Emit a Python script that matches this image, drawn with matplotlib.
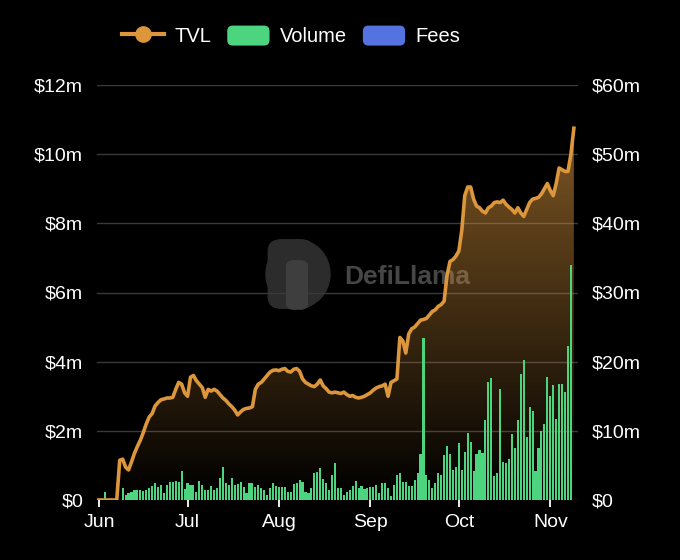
import numpy as np
import pandas as pd
import matplotlib
matplotlib.use("Agg")
import matplotlib.pyplot as plt
import matplotlib.dates as mdates
from matplotlib.lines import Line2D
from matplotlib.patches import Patch, FancyBboxPatch, Ellipse
from matplotlib.legend_handler import HandlerPatch

plt.rcParams['font.family'] = ['Liberation Sans', 'DejaVu Sans']

# daily values from May 31 to Nov 10, in $m
tvl = [0, 0, 0, 0, 0, 0, 0, 0,
       1.15, 1.18, 0.95, 0.87, 1.1, 1.35, 1.55, 1.73, 1.95, 2.2, 2.4, 2.5,
       2.72, 2.82, 2.9, 2.92, 2.95, 2.95, 2.97, 3.2, 3.4, 3.35, 3.1, 3.0,
       3.55, 3.6, 3.45, 3.35, 3.25, 2.97, 3.2, 3.15, 3.2, 3.15, 3.05, 2.95,
       2.88, 2.78, 2.7, 2.6, 2.46, 2.55, 2.62, 2.65, 2.66, 2.7, 3.2, 3.35,
       3.4, 3.5, 3.6, 3.7, 3.75, 3.76,
       3.74, 3.78, 3.8, 3.72, 3.7, 3.78, 3.8, 3.72, 3.5, 3.4, 3.35, 3.3,
       3.28, 3.35, 3.47, 3.3, 3.22, 3.12, 3.1, 3.12, 3.1, 3.08, 3.12, 3.05,
       3.0, 3.02, 2.97, 2.95, 2.97, 3.0,
       3.05, 3.1, 3.18, 3.24, 3.28, 3.3, 3.35, 3.0, 3.4, 3.45, 3.5, 4.7,
       4.6, 4.25, 4.8, 4.95, 5.0, 5.1, 5.2, 5.22, 5.25, 5.35, 5.45, 5.5,
       5.6, 5.65, 5.75, 6.5, 6.9, 6.95,
       7.05, 7.2, 7.8, 8.8, 9.05, 9.05, 8.7, 8.5, 8.45, 8.35, 8.3, 8.45,
       8.5, 8.6, 8.62, 8.6, 8.67, 8.55, 8.47, 8.4, 8.3, 8.45, 8.3, 8.2,
       8.4, 8.6, 8.7, 8.72, 8.75, 8.85,
       9.0, 9.15, 8.95, 8.8, 9.15, 9.6, 9.55, 9.5, 9.5, 10.0, 10.75]

volume = [0, 0, 0, 1.2, 0, 0, 0, 0, 0,
          1.69, 0.72, 1.06, 1.2, 1.45, 1.45, 1.45, 1.3, 1.45, 1.69, 2.02, 2.41,
          1.93, 2.17, 1.06, 2.17, 2.65, 2.65, 2.79, 2.55, 4.24, 1.54, 2.5, 2.17,
          2.12, 1.2, 2.75, 2.17, 1.45, 1.45, 2.02, 1.45, 1.69, 3.23, 4.72, 2.41,
          2.17, 3.13, 2.17, 2.31, 2.65, 1.93, 0.96, 2.41, 2.41, 1.93, 2.17, 1.69,
          1.45, 0.72, 1.69, 2.41, 2.02, 1.83, 1.93, 1.93, 1.2, 1.2, 2.31, 2.41,
          2.89, 2.65, 1.2, 0.96, 1.69, 3.85, 4.09, 4.58, 2.99, 2.41, 1.45, 3.61,
          5.39, 1.69, 1.69, 0.72, 1.2, 1.45, 2.02, 2.79, 1.69, 2.02, 1.54, 1.69,
          1.83, 1.93, 2.17, 0.96, 2.41,
          2.4, 1.7, 0.6, 2.2, 3.6, 3.85, 2.6, 2.6, 2.0, 2.0, 2.9, 3.95, 6.7,
          23.4, 3.6, 2.9, 1.8, 2.4, 3.85, 3.6, 6.5, 7.85, 6.6, 4.3, 4.8, 8.3,
          4.3, 6.9, 9.7, 8.4, 4.2, 6.7, 7.3, 6.8, 11.6, 17.0, 17.6, 3.4, 3.85,
          16.0, 5.5, 5.3, 6.0, 9.6, 7.5, 11.6, 18.2, 20.2, 9.1, 13.4, 12.9, 4.2,
          7.5, 10.0, 11.0, 17.8, 15.0, 16.6, 11.7, 16.8, 16.8, 15.6, 22.3, 34.0,
          0]

tvl_ticks = [0, 2, 4, 6, 8, 10, 12]
vol_ticks = [0, 10, 20, 30, 40, 50, 60]
VOL_SCALE = 5  # right axis = 5x left axis

orange = '#dc963c'
green = '#4cd47e'
blue = '#5573e0'


class RoundBox(HandlerPatch):
    def create_artists(self, legend, orig_handle, xdescent, ydescent,
                       width, height, fontsize, trans):
        p = FancyBboxPatch((-xdescent, -ydescent), width, height,
                           boxstyle='round,pad=0,rounding_size=4',
                           facecolor=orig_handle.get_facecolor(), lw=0,
                           transform=trans)
        return [p]


dates = pd.date_range('2023-05-31', periods=len(tvl), freq='D')
tvl = np.array(tvl)
volume = np.array(volume)

fig = plt.figure(figsize=(6.8, 5.6), dpi=100, facecolor='black')
ax = fig.add_axes([97 / 680, 60 / 560, 481 / 680, 415 / 560])
ax.set_facecolor('black')

# watermark logo + name
ft = fig.transFigure
ax.add_patch(FancyBboxPatch((271 / 680, 1 - 306 / 560), 40 / 680, 64 / 560,
                            boxstyle='round,pad=0.004,rounding_size=0.02',
                            transform=ft, color='#2c2c2c', zorder=0.5,
                            clip_on=False))
ax.add_patch(Ellipse((298 / 680, 1 - 274 / 560), 64 / 680, 68 / 560,
                     transform=ft, color='#2c2c2c', zorder=0.5,
                     clip_on=False))
ax.add_patch(FancyBboxPatch((288 / 680, 1 - 308 / 560), 18 / 680, 46 / 560,
                            boxstyle='round,pad=0.002,rounding_size=0.01',
                            transform=ft, color='#3e3e3e', zorder=0.55,
                            clip_on=False))
ax.text(407 / 680, 1 - 277 / 560, 'DefiLlama', transform=ft,
        color='#464646', fontsize=19, fontweight='bold', ha='center',
        va='center', zorder=0.6)

# gradient fill under tvl
xn = mdates.date2num(dates)
ramp = np.linspace(0, 1, 256).reshape(-1, 1)
img = np.zeros((256, 1, 4))
img[..., 0] = 0.86
img[..., 1] = 0.59
img[..., 2] = 0.24
img[..., 3] = ramp * 0.64
im = ax.imshow(img, extent=[xn[0], xn[-1], 0, 12], origin='lower',
               aspect='auto', zorder=1, interpolation='bilinear')
poly = ax.fill_between(dates, tvl, 0, color='none', lw=0)
im.set_clip_path(poly.get_paths()[0], transform=ax.transData)

ax.bar(dates, volume / VOL_SCALE, width=0.72, color=green, zorder=2, lw=0)
ax.plot(dates, tvl, color=orange, lw=2.6, zorder=3, solid_joinstyle='round')

ax.set_ylim(0, 12)
ax.set_xlim(xn[0] + 0.3, xn[0] + 163.4)
ax.set_yticks(tvl_ticks)
ax.set_yticklabels(['$0' if t == 0 else f'${t}m' for t in tvl_ticks])
ax.yaxis.grid(True, color='#3a3a3a', lw=1)
ax.set_axisbelow(True)
for s in ax.spines.values():
    s.set_visible(False)
ax.tick_params(axis='y', length=0, labelcolor='white', labelsize=14, pad=10)

ax.xaxis.set_major_locator(mdates.MonthLocator())
ax.xaxis.set_major_formatter(mdates.DateFormatter('%b'))
ax.tick_params(axis='x', colors='white', labelsize=14, length=5, width=1.3,
               pad=5)

sec = ax.secondary_yaxis('right', functions=(lambda v: v * VOL_SCALE,
                                             lambda v: v / VOL_SCALE))
sec.set_yticks(vol_ticks)
sec.set_yticklabels(['$0' if t == 0 else f'${t}m' for t in vol_ticks])
sec.tick_params(length=0, labelcolor='white', labelsize=14, pad=10)
for s in sec.spines.values():
    s.set_visible(False)

handles = [Line2D([0], [0], color=orange, lw=3, marker='o', markersize=11),
           Patch(facecolor=green), Patch(facecolor=blue)]
fig.legend(handles, ['TVL', 'Volume', 'Fees'], loc='center',
           bbox_to_anchor=(291 / 680, 1 - 36 / 560), ncol=3, frameon=False,
           labelcolor='white', fontsize=14.5, handlelength=2.1,
           handleheight=1.15, columnspacing=0.8, handletextpad=0.5,
           handler_map={Patch: RoundBox()})

fig.savefig('out.png', dpi=100, facecolor='black')
